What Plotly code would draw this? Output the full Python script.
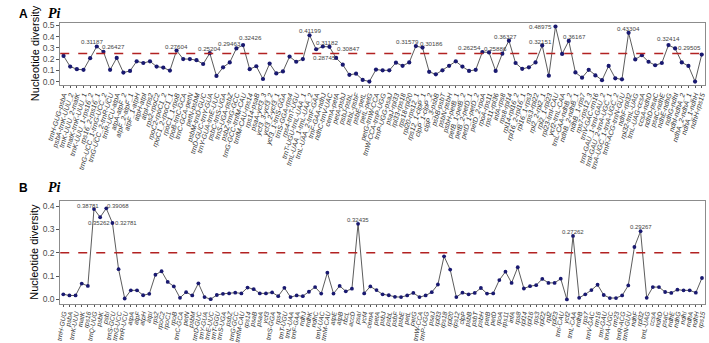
import plotly.graph_objects as go

# ---------------- data ----------------
regions_A = [
    "trnH-GUG-psbA", "psbA-trnK-UUU_2", "trnK-UUU_2-matK", "matK-trnK-UUU_1", "trnK-UUU_1-rps16_2",
    "rps16_2-rps16_1", "trnG-UCC_1-trnG-UCC_2", "trnG-UCC_2-trnR-UCU", "trnR-UCU-atpA", "atpA-atpF_2",
    "atpF_2-atpF_1", "atpF_1-atpH", "atpH-atpI", "atpI-rps2", "rps2-rpoC2",
    "rpoC2-rpoC1_2", "rpoC1_2-rpoC1_1", "rpoC1_1-rpoB", "rpoB-trnC-GCA", "trnC-GCA-petN",
    "petN-psbM", "psbM-trnD-GUC", "trnD-GUC-trnY-GUA", "trnY-GUA-trnE-UUC", "psbC-trnS-UGA",
    "trnS-UGA-psbZ", "psbZ-trnG-GCC", "trnG-GCC-trnfM-CAU", "trnfM-CAU-rps14", "rps14-psaB",
    "psaA-ycf3_3", "ycf3_3-ycf3_2", "ycf3_2-ycf3_1", "ycf3_1-trnS-GGA", "trnS-GGA-rps4",
    "rps4-trnT-UGU", "trnT-UGU-trnL-UAA_1", "trnL-UAA_1-trnL-UAA_2", "trnL-UAA_2-trnF-GAA", "trnF-GAA-ndhJ",
    "ndhC-trnV-UAC", "cemA-petA", "petA-psbJ", "psbJ-psbL", "psbL-psbF",
    "psbE-petL", "petL-petG", "petG-trnW-CCA", "trnW-CCA-trnP-UGG", "trnP-UGG-psaJ",
    "psaJ-rpl33", "rpl33-rps18", "rps18-rpl20", "rpl20-rps12_1", "rps12_1-clpP_1",
    "clpP_1-clpP_2", "clpP_3-psbB", "psbB-psbT", "psbN-psbH", "psbH-petB_1",
    "petB_1-petB_2", "petB_2-petD_1", "petD_1-petD_2", "petD_2-rpoA", "rpoA-rps11",
    "rps11-rpl36", "infA-rps8", "rps8-rpl14", "rpl14-rpl16_2", "rpl16_2-rpl16_1",
    "rpl16_1-rps3", "rps3-rpl22", "rpl2_2-rpl2_1", "rpl2_1-rpl23", "rpl23-trnI-CAU",
    "ycf2-trnL-CAA", "trnL-CAA-ndhB_2", "ndhB_2-ndhB_1", "ndhB_1-rps7", "rps7-rps12_3",
    "trnV-GAC-rrn16", "trnI-GAU_1-trnI-GAU_2", "trnI-GAU_2-trnA-UGC_1", "trnA-UGC_1-trnA-UGC_2", "trnR-ACG-trnN-GUU",
    "ndhF-rpl32", "rpl32-trnL-UAG", "trnL-UAG-ccsA", "ccsA-ndhD", "ndhD-psaC",
    "psaC-ndhE", "ndhE-ndhG", "ndhG-ndhI", "ndhI-ndhA_2", "ndhA_2-ndhA_1",
    "ndhA_1-ndhH", "ndhH-rps15",
]

pi_A = [
    0.228, 0.133, 0.110, 0.104, 0.208, 0.31187, 0.26427, 0.104, 0.210, 0.080,
    0.095, 0.180, 0.165, 0.180, 0.133, 0.124, 0.098, 0.27604, 0.200, 0.200,
    0.190, 0.156, 0.25204, 0.050, 0.127, 0.170, 0.29463, 0.32426, 0.110, 0.136,
    0.023, 0.160, 0.072, 0.090, 0.222, 0.176, 0.200, 0.41199, 0.28745, 0.31182,
    0.30847, 0.210, 0.150, 0.060, 0.070, 0.015, 0.000, 0.107, 0.100, 0.100,
    0.168, 0.140, 0.170, 0.31579, 0.30186, 0.087, 0.064, 0.100, 0.140, 0.180,
    0.133, 0.095, 0.104, 0.26254, 0.25886, 0.095, 0.248, 0.36327, 0.165, 0.113,
    0.127, 0.170, 0.32151, 0.052, 0.48975, 0.246, 0.36167, 0.081, 0.035, 0.104,
    0.055, 0.012, 0.139, 0.029, 0.020, 0.43304, 0.197, 0.234, 0.176, 0.145,
    0.165, 0.32414, 0.29505, 0.170, 0.139, 0.000, 0.240,
]

genes_B = [
    "trnH-GUG", "psbA", "trnK-UUU", "matK", "rps16", "trnQ-UUG", "psbK", "psbI", "trnS-GCU", "trnG-UCC",
    "trnR-UCU", "atpA", "atpF", "atpH", "atpI", "rps2", "rpoC2", "rpoC1", "rpoB", "trnC-GCA",
    "petN", "psbM", "trnD-GUC", "trnY-GUA", "trnE-UUC", "trnT-GGU", "trnS-UGA", "psbZ", "trnG-GCC", "trnfM-CAU",
    "rps14", "psaB", "psaA", "ycf3", "trnS-GGA", "rps4", "trnT-UGU", "trnL-UAA", "trnF-GAA", "ndhJ",
    "ndhK", "ndhC", "trnV-UAC", "trnM-CAU", "atpE", "atpB", "rbcL", "accD", "psaI", "ycf4",
    "cemA", "petA", "psbJ", "psbL", "psbF", "psbE", "petL", "petG", "trnW-CCA", "trnP-UGG",
    "psaJ", "rpl33", "rps18", "rpl20", "rps12", "clpP", "psbB", "psbT", "psbH", "petB",
    "petD", "rpoA", "rps11", "infA", "rps8", "rpl14", "rpl16", "rps3", "rpl22", "rpl2",
    "rpl23", "trnI-CAU", "ycf2", "trnL-CAA", "ndhB", "rps7", "trnV-GAC", "rrn16", "trnI-GAU", "trnA-UGC",
    "rrn23", "trnR-ACG", "trnN-GUU", "ndhF", "rpl32", "trnL-UAG", "ccsA", "ndhD", "psaC", "ndhE",
    "ndhG", "ndhI", "ndhA", "ndhH", "rps15",
]

pi_B = [
    0.022, 0.017, 0.017, 0.068, 0.058, 0.38781, 0.35262, 0.39068, 0.32781, 0.130,
    0.004, 0.039, 0.039, 0.018, 0.024, 0.106, 0.121, 0.075, 0.056, 0.007,
    0.031, 0.017, 0.069, 0.010, 0.001, 0.019, 0.024, 0.026, 0.029, 0.026,
    0.051, 0.044, 0.026, 0.026, 0.030, 0.014, 0.050, 0.010, 0.017, 0.014,
    0.033, 0.053, 0.025, 0.115, 0.025, 0.058, 0.035, 0.046, 0.32435, 0.026,
    0.056, 0.040, 0.022, 0.018, 0.011, 0.010, 0.017, 0.028, 0.010, 0.017,
    0.031, 0.064, 0.185, 0.128, 0.010, 0.029, 0.022, 0.028, 0.049, 0.025,
    0.026, 0.083, 0.119, 0.071, 0.138, 0.047, 0.057, 0.061, 0.088, 0.071,
    0.071, 0.089, 0.000, 0.27262, 0.007, 0.022, 0.040, 0.063, 0.019, 0.006,
    0.006, 0.017, 0.060, 0.225, 0.29267, 0.007, 0.053, 0.053, 0.032, 0.028,
    0.042, 0.039, 0.039, 0.029, 0.092,
]

threshold_A = 0.25
threshold_B = 0.2

# labelled points: index -> (xshift px, yshift px) for the text
labels_A = {5: (-5, 5), 6: (10, 5), 17: (0, 4), 22: (0, 4.5), 26: (-7, 5), 27: (7, 8),
            37: (0, 4.5), 38: (8, -8), 39: (4, 4), 40: (19, -1.5), 53: (-8, 5), 54: (9, 4),
            63: (-13, 5), 64: (6, 4), 67: (-3, 4), 72: (-2, 3.5), 74: (-15, 0), 76: (6, 4),
            85: (0, 4), 91: (0, 7), 92: (14, 1)}
labels_B = {5: (-6, 3), 6: (-1, -6), 7: (12, 2), 8: (14, 0), 48: (0, 4), 83: (0, 4), 94: (0, 4)}

# ---------------- layout geometry ----------------
W, H = 709, 343
def px_x(p): return p / W
def px_y(p): return 1 - p / H

LINE_COL = "#4a4a4a"
PT_COL = "#191970"
RED = "#B22222"
FONT = "Arial, Liberation Sans, sans-serif"

fig = go.Figure()

xa = list(range(len(pi_A)))
xb = list(range(len(pi_B)))

fig.add_trace(go.Scatter(x=xa, y=pi_A, mode="lines+markers", xaxis="x", yaxis="y",
                         line=dict(color=LINE_COL, width=0.9),
                         marker=dict(color=PT_COL, size=4.2), hoverinfo="skip", showlegend=False))
fig.add_trace(go.Scatter(x=xb, y=pi_B, mode="lines+markers", xaxis="x2", yaxis="y2",
                         line=dict(color=LINE_COL, width=0.9),
                         marker=dict(color=PT_COL, size=3.8), hoverinfo="skip", showlegend=False))

common_x = dict(showgrid=False, zeroline=False, showline=True, mirror=True, linecolor="#8c8c8c",
                linewidth=1, ticks="outside", ticklen=2, tickcolor="#555", tickmode="array")
common_y = dict(showgrid=False, zeroline=False, showline=True, mirror=True, linecolor="#8c8c8c",
                linewidth=1, ticks="outside", ticklen=3, tickcolor="#555",
                tickfont=dict(family=FONT, size=8.5, color="#4d4d4d"))

fig.update_layout(
    width=W, height=H, margin=dict(l=0, r=0, t=0, b=0),
    paper_bgcolor="white", plot_bgcolor="white",
    xaxis=dict(domain=[px_x(47.3), px_x(707)], anchor="y", range=[-0.5, len(pi_A) - 0.5],
               tickvals=xa, ticktext=regions_A, tickangle=-73,
               tickfont=dict(family=FONT, size=7, color="#333", style="italic"), **common_x),
    yaxis=dict(domain=[px_y(85.3), px_y(21.3)], anchor="x", range=[-0.031, 0.523],
               tickvals=[0, 0.1, 0.2, 0.3, 0.4, 0.5], ticktext=["0.0", "0.1", "0.2", "0.3", "0.4", "0.5"],
               **common_y),
    xaxis2=dict(domain=[px_x(47.3), px_x(707)], anchor="y2", range=[-0.5, len(pi_B) - 0.5],
                tickvals=xb, ticktext=genes_B, tickangle=-80,
                tickfont=dict(family=FONT, size=6.6, color="#333", style="italic"), **common_x),
    yaxis2=dict(domain=[px_y(310), px_y(204.3)], anchor="x2", range=[-0.019, 0.4225],
                tickvals=[0, 0.1, 0.2, 0.3, 0.4], ticktext=["0.0", "0.1", "0.2", "0.3", "0.4"],
                **common_y),
)

# threshold lines
fig.add_shape(type="line", xref="x domain", yref="y", x0=0, x1=1, y0=threshold_A, y1=threshold_A,
              line=dict(color=RED, width=1.5, dash="dash"))
fig.add_shape(type="line", xref="x2 domain", yref="y2", x0=0, x1=1, y0=threshold_B, y1=threshold_B,
              line=dict(color=RED, width=1.5, dash="dash"))

anns = []
for i, (dx, dy) in labels_A.items():
    anns.append(dict(x=i, y=pi_A[i], xref="x", yref="y", text=f"{pi_A[i]:.5f}", showarrow=False,
                     xanchor="center", yanchor="middle",
                     xshift=dx, yshift=dy, font=dict(family=FONT, size=6.2, color="#444")))
for i, (dx, dy) in labels_B.items():
    anns.append(dict(x=i, y=pi_B[i], xref="x2", yref="y2", text=f"{pi_B[i]:.5f}", showarrow=False,
                     xanchor="center", yanchor="middle",
                     xshift=dx, yshift=dy, font=dict(family=FONT, size=6.0, color="#444")))

# panel tags and titles
for tag, ytop in (("A", 3), ("B", 182)):
    anns.append(dict(x=px_x(3), y=px_y(ytop), xref="paper", yref="paper", xanchor="left", yanchor="top",
                     text=f"<b>{tag}</b>", showarrow=False, font=dict(family=FONT, size=12, color="black")))
    anns.append(dict(x=px_x(33), y=px_y(ytop - 1), xref="paper", yref="paper", xanchor="left", yanchor="top",
                     text="<b><i>Pi</i></b>", showarrow=False,
                     font=dict(family="Liberation Serif, DejaVu Serif, serif", size=14, color="black")))

# y axis titles
for yc in (53, 257):
    anns.append(dict(x=px_x(21), y=px_y(yc), xref="paper", yref="paper", text="Nucleotide diversity",
                     xanchor="center", yanchor="middle",
                     textangle=-90, showarrow=False, font=dict(family=FONT, size=11, color="black")))

fig.update_layout(annotations=anns)

fig.write_html("out.html", config={"displayModeBar": False})
